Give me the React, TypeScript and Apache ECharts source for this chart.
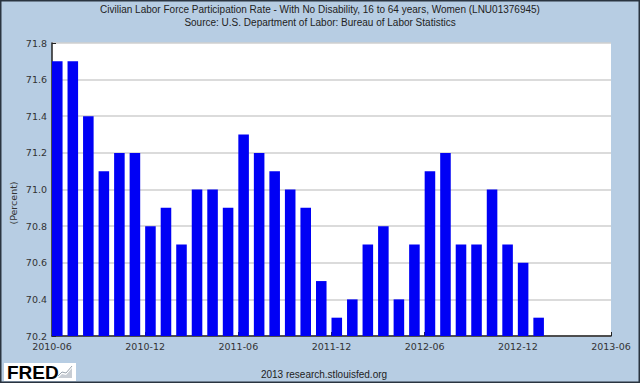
import React, { useEffect, useRef } from "react";
import * as echarts from "echarts";

const months = [
  "2010-06","2010-07","2010-08","2010-09","2010-10","2010-11","2010-12",
  "2011-01","2011-02","2011-03","2011-04","2011-05","2011-06","2011-07",
  "2011-08","2011-09","2011-10","2011-11","2011-12","2012-01","2012-02",
  "2012-03","2012-04","2012-05","2012-06","2012-07","2012-08","2012-09",
  "2012-10","2012-11","2012-12","2013-01",
];
const values = [
  71.7, 71.7, 71.4, 71.1, 71.2, 71.2, 70.8,
  70.9, 70.7, 71.0, 71.0, 70.9, 71.3, 71.2,
  71.1, 71.0, 70.9, 70.5, 70.3, 70.4, 70.7,
  70.8, 70.4, 70.7, 71.1, 71.2, 70.7, 70.7,
  71.0, 70.7, 70.6, 70.3,
];
// x tick labels every 6 months, index 0..36
const tickLabels = ["2010-06", "2010-12", "2011-06", "2011-12", "2012-06", "2012-12", "2013-06"];
const yMin = 70.2;
const yMax = 71.8;

const titleLine1 = "Civilian Labor Force Participation Rate - With No Disability, 16 to 64 years, Women (LNU01376945)";
const titleLine2 = "Source: U.S. Department of Labor: Bureau of Labor Statistics";
const footer = "2013 research.stlouisfed.org";
const yName = "(Percent)";

export default function App() {
  const ref = useRef<HTMLDivElement>(null);
  useEffect(() => {
    if (!ref.current) return;
    const chart = echarts.init(ref.current, null, { renderer: "svg" });
    const txtFont = "Liberation Sans";
    const axFont = "DejaVu Sans";
    chart.setOption({
      animation: false,
      backgroundColor: "#b7cde3",
      grid: {
        left: 52,
        right: 29,
        top: 43,
        bottom: 47,
        show: true,
        backgroundColor: "#ffffff",
        borderWidth: 0,
      },
      xAxis: {
        type: "value",
        min: 0,
        max: months.length + 4,
        interval: 6,
        splitLine: { show: false },
        axisLine: { show: true, lineStyle: { color: "#222", width: 1.5 } },
        axisTick: { show: true, inside: true, length: 4, lineStyle: { color: "#222" } },
        axisLabel: {
          color: "#333",
          fontFamily: axFont,
          fontSize: 9.5,
          margin: 5,
          formatter: (v: number) => tickLabels[Math.round(v / 6)] ?? "",
        },
      },
      yAxis: {
        type: "value",
        min: yMin,
        max: yMax,
        interval: 0.2,
        splitLine: { show: true, lineStyle: { color: "#cfcfcf", width: 1.5 } },
        axisLine: { show: true, lineStyle: { color: "#222", width: 1.5 } },
        axisTick: { show: true, inside: true, length: 4, lineStyle: { color: "#222" } },
        axisLabel: {
          color: "#333",
          fontFamily: axFont,
          fontSize: 9.5,
          margin: 5,
          formatter: (v: number) => v.toFixed(1),
        },
      },
      series: [
        {
          type: "custom",
          data: values.map((v, i) => [i, v]),
          renderItem: (params: any, api: any) => {
            const i = api.value(0);
            const v = api.value(1);
            const top = api.coord([i, v]);
            const base = api.coord([i + 1, yMin]);
            const w = (base[0] - top[0]) * 0.68;
            return {
              type: "rect",
              shape: { x: top[0], y: top[1], width: w, height: base[1] - top[1] },
              style: { fill: "#0000f5" },
            };
          },
        },
      ],
      graphic: [
        {
          type: "text",
          x: 320,
          y: 4,
          style: {
            text: titleLine1,
            fill: "#222",
            font: `10px '${txtFont}'`,
            align: "center",
          },
        },
        {
          type: "text",
          x: 320,
          y: 17,
          style: {
            text: titleLine2,
            fill: "#222",
            font: `10px '${txtFont}'`,
            align: "center",
          },
        },
        {
          type: "text",
          x: 13,
          y: 203,
          rotation: Math.PI / 2,
          style: {
            text: yName,
            fill: "#333",
            font: `9.5px '${axFont}'`,
            align: "center",
            verticalAlign: "middle",
          },
        },
        {
          type: "text",
          x: 324,
          y: 369,
          style: {
            text: footer,
            fill: "#222",
            font: `10px '${txtFont}'`,
            align: "center",
          },
        },
        {
          type: "rect",
          shape: { x: 4, y: 363, width: 72, height: 18 },
          style: { fill: "#ffffff" },
        },
        {
          type: "text",
          x: 7,
          y: 363,
          style: {
            text: "FRED",
            fill: "#000",
            font: `bold 19px 'Liberation Sans'`,
          },
        },
        {
          type: "polygon",
          shape: { points: [[58, 378], [62, 374], [66, 375], [72, 368], [72, 378]] },
          style: { fill: "#c8cdd4" },
        },
        {
          type: "polyline",
          shape: { points: [[58, 376], [62, 372], [66, 373], [72, 366]] },
          style: { stroke: "#9aa3ad", lineWidth: 1, fill: null },
        },
        {
          type: "rect",
          shape: { x: 0.75, y: 0.75, width: 638.5, height: 381.5 },
          style: { fill: null, stroke: "#2a3440", lineWidth: 1.5 },
        },
      ],
    });
    return () => chart.dispose();
  }, []);
  return (
    <div
      ref={ref}
      style={{ position: "fixed", left: 0, top: 0, width: 640, height: 383 }}
    />
  );
}
